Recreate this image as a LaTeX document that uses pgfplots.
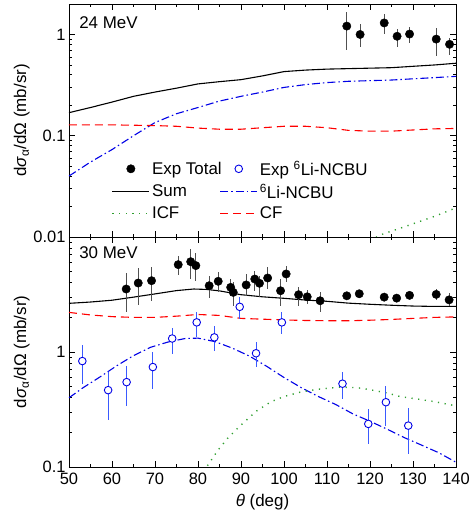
\documentclass[border=0pt]{standalone}
\usepackage{fontspec}
\setmainfont{Liberation Sans}
\usepackage{pgfplots}
\pgfplotsset{compat=1.18}
\definecolor{cncbu}{HTML}{0000E6}
\definecolor{ccf}{HTML}{FF0000}
\definecolor{cicf}{HTML}{2E9E2E}
\definecolor{errgrey}{HTML}{505050}
\definecolor{errblue}{HTML}{3A5AFF}
\newcommand{\dsig}{d\textit{σ}\textsubscript{α}/dΩ (mb/sr)}
\begin{document}
\begin{tikzpicture}
\begin{axis}[name=top, scale only axis, width=387bp, height=233bp,
  xmin=50, xmax=140, ymode=log, ymin=0.01, ymax=2,
  xtick={50,60,...,140}, minor xtick={55,65,...,135}, xticklabels={},
  ytick={0.01,0.1,1}, yticklabels={0.01,0.1,1},
  minor ytick={0.02,0.03,0.04,0.05,0.06,0.07,0.08,0.09,0.2,0.3,0.4,0.5,0.6,0.7,0.8,0.9,2},
  tick align=inside, major tick length=6bp, minor tick length=3.5bp,
  axis line style={line width=0.9pt}, tick style={black, line width=0.8pt},
  yticklabel style={font=\fontsize{16.5}{18}\selectfont},
  ylabel={\dsig},
  every axis y label/.style={at={(axis description cs:-0.122,0.5)}, anchor=center, rotate=90, font=\fontsize{17}{19}\selectfont},
  legend columns=2, legend cell align=left,
  legend image code/.code={\draw[mark repeat=2,mark phase=2,#1] plot coordinates {(0bp,0bp) (18.5bp,0bp) (37bp,0bp)};},
  legend style={at={(axis description cs:0.102,0.345)}, anchor=north west,
    draw=none, fill=none, font=\fontsize{17}{19}\selectfont, row sep=3bp,
    /tikz/every even column/.append style={column sep=-4bp}},
]
\addplot[black, line width=1.1pt, forget plot] coordinates {(50,0.169) (55,0.19) (60,0.215) (65,0.245) (70,0.27) (75,0.295) (80,0.325) (85,0.342) (90,0.358) (95,0.39) (100,0.43) (105,0.445) (110,0.455) (115,0.46) (120,0.465) (125,0.47) (130,0.485) (135,0.50) (140,0.52)};
\addplot[cncbu, line width=1.1pt, dash pattern=on 8bp off 3bp on 1.5bp off 3bp, forget plot] coordinates {(50,0.040) (55,0.055) (60,0.073) (65,0.10) (70,0.135) (75,0.165) (80,0.19) (85,0.22) (90,0.245) (95,0.27) (100,0.30) (105,0.32) (110,0.335) (115,0.345) (120,0.35) (125,0.355) (130,0.365) (135,0.375) (140,0.386)};
\addplot[ccf, line width=1.1pt, dash pattern=on 8bp off 5bp, forget plot] coordinates {(50,0.128) (60,0.128) (70,0.126) (75,0.124) (80,0.119) (85,0.116) (90,0.116) (95,0.120) (100,0.124) (105,0.124) (110,0.12) (115,0.113) (120,0.111) (125,0.111) (130,0.114) (135,0.117) (140,0.118)};
\addplot[cicf, line width=1.4pt, dash pattern=on 1.2bp off 5.5bp, forget plot] coordinates {(120,0.0093) (123,0.0107) (127,0.0122) (130,0.0135) (135,0.016) (140,0.0194)};
\addplot[only marks, mark=*, mark size=4.2bp, black, forget plot,
  error bars/.cd, y dir=both, y explicit, error mark=none,
  error bar style={errgrey, line width=1pt}] coordinates {
  (114.6,1.21) += (0,0.46) -= (0,0.50)
  (117.7,1.00) += (0,0.28) -= (0,0.24)
  (123.3,1.30) += (0,0.28) -= (0,0.28)
  (126.3,0.96) += (0,0.17) -= (0,0.20)
  (129.2,1.01) += (0,0.18) -= (0,0.18)
  (135.4,0.90) += (0,0.26) -= (0,0.28)
  (138.5,0.80) += (0,0.12) -= (0,0.17)};
\addlegendimage{only marks, mark=*, mark size=4.2bp, color=black}
\addlegendentry{Exp Total}
\addlegendimage{only marks, mark=o, mark size=3.8bp, color=cncbu, line width=0.9pt}
\addlegendentry{Exp \textsuperscript{6}Li-NCBU}
\addlegendimage{color=black, line width=1.1pt}
\addlegendentry{Sum}
\addlegendimage{color=cncbu, line width=1.1pt, dash pattern=on 8bp off 3bp on 1.5bp off 3bp}
\addlegendentry{\textsuperscript{6}Li-NCBU}
\addlegendimage{color=cicf, line width=1.4pt, dash pattern=on 1.2bp off 5.5bp}
\addlegendentry{ICF}
\addlegendimage{color=ccf, line width=1.1pt, dash pattern=on 8bp off 5bp}
\addlegendentry{CF}
\node[anchor=north west, inner sep=0pt, font=\fontsize{17}{19}\selectfont] at (axis description cs:0.026,0.948) {24 MeV};
\end{axis}
\begin{axis}[at={(top.south west)}, anchor=north west,
  scale only axis, width=387bp, height=230bp,
  xmin=50, xmax=140, ymode=log, ymin=0.1, ymax=10,
  xtick={50,60,...,140}, minor xtick={55,65,...,135},
  ytick={0.1,1}, yticklabels={0.1,1},
  minor ytick={0.2,0.3,0.4,0.5,0.6,0.7,0.8,0.9,2,3,4,5,6,7,8,9},
  tick align=inside, major tick length=6bp, minor tick length=3.5bp,
  axis line style={line width=0.9pt}, tick style={black, line width=0.8pt},
  tick label style={font=\fontsize{16.5}{18}\selectfont},
  xticklabel style={/pgf/number format/assume math mode=true, yshift=-2bp},
  ylabel={\dsig}, xlabel={\textit{θ} (deg)},
  xlabel style={font=\fontsize{17}{19}\selectfont, yshift=-3bp},
  every axis y label/.style={at={(axis description cs:-0.122,0.5)}, anchor=center, rotate=90, font=\fontsize{17}{19}\selectfont},
]
\addplot[black, line width=1.1pt] coordinates {(50,2.65) (55,2.72) (60,2.82) (65,3.0) (70,3.2) (75,3.42) (79,3.53) (82,3.5) (85,3.4) (90,3.15) (95,3.02) (100,2.93) (105,2.83) (110,2.76) (115,2.66) (120,2.6) (125,2.55) (130,2.51) (135,2.49) (140,2.49)};
\addplot[ccf, line width=1.1pt, dash pattern=on 8bp off 5bp] coordinates {(50,2.21) (55,2.1) (60,2.03) (65,2.0) (70,2.0) (75,2.05) (80,2.12) (85,2.08) (90,1.96) (95,1.93) (100,1.9) (105,1.88) (110,1.87) (115,1.87) (120,1.89) (125,1.92) (130,1.96) (135,2.0) (140,2.02)};
\addplot[cncbu, line width=1.1pt, dash pattern=on 8bp off 3bp on 1.5bp off 3bp] coordinates {(50,0.40) (53.3,0.49) (57,0.60) (61,0.755) (65,0.93) (69,1.1) (73,1.22) (77,1.31) (80,1.32) (84,1.23) (88,1.08) (92,0.92) (96,0.75) (100,0.60) (104,0.49) (108,0.41) (112,0.35) (116,0.29) (120,0.25) (124,0.213) (128,0.18) (132,0.155) (136,0.133) (140,0.11)};
\addplot[cicf, line width=1.4pt, dash pattern=on 1.2bp off 5.5bp] coordinates {(80,0.085) (82,0.1) (84.7,0.141) (87,0.18) (89.7,0.226) (93.5,0.305) (97,0.37) (100,0.41) (104,0.45) (108,0.475) (113,0.495) (117,0.49) (120,0.47) (124,0.44) (127,0.41) (131,0.39) (135,0.37) (140,0.34)};
\addplot[only marks, mark=*, mark size=4.2bp, black,
  error bars/.cd, y dir=both, y explicit, error mark=none,
  error bar style={errgrey, line width=1pt}] coordinates {
  (63.3,3.53) += (0,1.34) -= (0,1.32)
  (66.1,3.98) += (0,1.40) -= (0,1.42)
  (69.2,4.17) += (0,1.29) -= (0,1.38)
  (75.4,5.75) += (0,1.06) -= (0,1.08)
  (78.3,6.10) += (0,1.80) -= (0,1.80)
  (79.5,5.64) += (0,1.60) -= (0,1.50)
  (82.6,3.77) += (0,0.84) -= (0,0.84)
  (84.7,4.12) += (0,0.82) -= (0,0.82)
  (87.6,3.65) += (0,0.65) -= (0,0.55)
  (88.2,3.30) += (0,0.74) -= (0,0.78)
  (91.2,3.83) += (0,0.94) -= (0,0.75)
  (93.2,4.31) += (0,0.79) -= (0,0.90)
  (94.3,3.96) += (0,0.65) -= (0,0.95)
  (96.2,4.40) += (0,1.06) -= (0,0.87)
  (99.2,3.41) += (0,0.90) -= (0,0.89)
  (100.5,4.77) += (0,0.87) -= (0,0.73)
  (103.4,3.15) += (0,0.50) -= (0,0.66)
  (105.4,3.02) += (0,0.45) -= (0,0.42)
  (108.4,2.79) += (0,0.51) -= (0,0.54)
  (114.6,3.08) += (0,0.15) -= (0,0.15)
  (117.5,3.21) += (0,0.12) -= (0,0.12)
  (123.3,3.00) += (0,0.20) -= (0,0.20)
  (126.2,2.94) += (0,0.15) -= (0,0.15)
  (129.2,3.11) += (0,0.15) -= (0,0.15)
  (135.4,3.17) += (0,0.33) -= (0,0.32)
  (138.4,2.84) += (0,0.41) -= (0,0.34)};
\addplot[only marks, mark=*, mark size=3.8bp,
  mark options={draw=cncbu, fill=white, line width=0.9pt},
  error bars/.cd, y dir=both, y explicit, error mark=none,
  error bar style={errblue, line width=1pt}] coordinates {
  (53.1,0.834) += (0,0.31) -= (0,0.31)
  (59.1,0.466) += (0,0.20) -= (0,0.21)
  (63.4,0.547) += (0,0.21) -= (0,0.21)
  (69.5,0.74) += (0,0.26) -= (0,0.26)
  (74.0,1.31) += (0,0.32) -= (0,0.34)
  (79.7,1.81) += (0,0.40) -= (0,0.45)
  (83.8,1.34) += (0,0.33) -= (0,0.32)
  (89.7,2.47) += (0,0.52) -= (0,0.54)
  (93.5,0.975) += (0,0.24) -= (0,0.23)
  (99.5,1.81) += (0,0.40) -= (0,0.39)
  (113.6,0.53) += (0,0.14) -= (0,0.14)
  (119.6,0.237) += (0,0.08) -= (0,0.08)
  (123.7,0.366) += (0,0.14) -= (0,0.14)
  (128.9,0.229) += (0,0.10) -= (0,0.10)};
\node[anchor=north west, inner sep=0pt, font=\fontsize{17}{19}\selectfont] at (axis description cs:0.026,0.958) {30 MeV};
\end{axis}
\path (top.north west) ++(-69bp,4bp) rectangle ++(470bp,-522bp);
\end{tikzpicture}
\end{document}
